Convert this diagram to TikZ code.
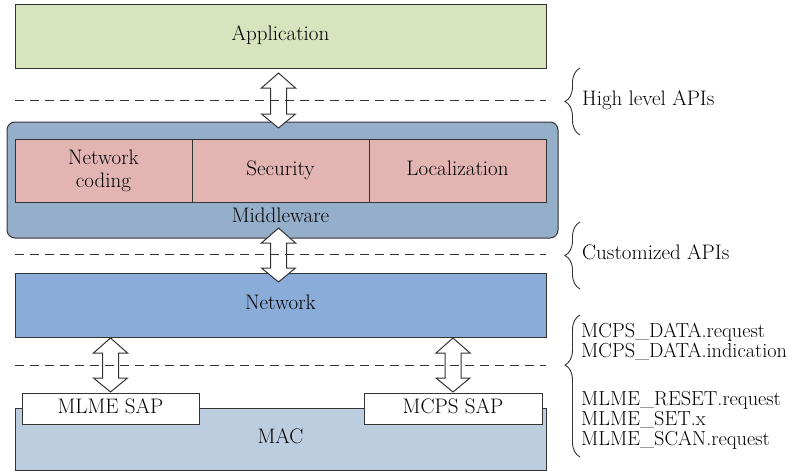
\documentclass[tikz,border=0pt]{standalone}
\usetikzlibrary{decorations.pathreplacing,calc}
\definecolor{appgreen}{HTML}{D7E4BD}
\definecolor{mwblue}{HTML}{95AFCB}
\definecolor{modpink}{HTML}{E2B5B3}
\definecolor{netblue}{HTML}{8AACD9}
\definecolor{macblue}{HTML}{BCCDE0}
\definecolor{edge}{HTML}{333333}
\newcommand\dblarr[2]{%
  \draw[dblarrow] (#1) -- ++(17,15) -- ++(-9,0) -- ($(#2)+(8,-14)$) -- ++(9,0) -- (#2)
    -- ++(-17,-14) -- ++(9,0) -- ($(#1)+(-8,15)$) -- ++(-9,0) -- cycle;}
\begin{document}
\begin{tikzpicture}[x=1pt,y=-1pt,
  font=\rmfamily\fontsize{21}{21}\selectfont,
  every node/.style={text height=14.5pt, text depth=4.5pt},
  layer/.style={draw=edge, line width=1pt, anchor=north west, inner sep=0pt, outer sep=0pt},
  dblarrow/.style={draw=edge, line width=1pt, fill=white, line join=miter},
  sep/.style={draw=edge, line width=1pt, dash pattern=on 9pt off 6pt},
  api/.style={decorate, decoration={brace, amplitude=15pt}, draw=edge, line width=0.9pt},
  lbl/.style={anchor=west, inner sep=0pt},
  call/.style={anchor=base west, inner sep=0pt, font=\rmfamily\fontsize{20.3}{20.3}\selectfont}]
\useasboundingbox (0,0) rectangle (788,471);
% layers
\node[layer, fill=appgreen, minimum width=531pt, minimum height=64pt] (app) at (15,4) {};
\node (appt) at (280.5,36) {Application};
\node[layer, fill=mwblue, rounded corners=8pt, minimum width=551pt, minimum height=116pt] (mw) at (7,122) {};
\node[layer, fill=modpink, minimum width=177pt, minimum height=63pt] (nc) at (15,139) {};
\node[align=center, text height=, text depth=, font=\rmfamily\fontsize{21}{23}\selectfont] (nct) at (103.5,170.5) {Network\\coding};
\node[layer, fill=modpink, minimum width=177pt, minimum height=63pt] (sec) at (192,139) {};
\node (sect) at (280.5,170.5) {Security};
\node[layer, fill=modpink, minimum width=177pt, minimum height=63pt] (loc) at (369,139) {};
\node (loct) at (457.5,170.5) {Localization};
\node (mwl) at (280.5,217) {Middleware};
\node[layer, fill=netblue, minimum width=531pt, minimum height=64pt] (net) at (15,273) {};
\node (nett) at (280.5,304) {Network};
\node[layer, fill=macblue, minimum width=531pt, minimum height=62pt] (mac) at (15,408) {};
\node (mact) at (280.5,438) {MAC};
\node[layer, fill=white, minimum width=177pt, minimum height=31pt] (mlme) at (22,393) {};
\node (mlmet) at (110.5,408.5) {MLME SAP};
\node[layer, fill=white, minimum width=178pt, minimum height=31pt] (mcps) at (364,393) {};
\node (mcpst) at (453,408.5) {MCPS SAP};
% double arrows
\coordinate (a1t) at (278.5,73);  \coordinate (a1b) at (278.5,128);
\coordinate (a2t) at (278.5,228); \coordinate (a2b) at (278.5,282);
\coordinate (a3t) at (110.5,338); \coordinate (a3b) at (110.5,392);
\coordinate (a4t) at (453,338);   \coordinate (a4b) at (453,392);
\dblarr{a1t}{a1b}
\dblarr{a2t}{a2b}
\dblarr{a3t}{a3b}
\dblarr{a4t}{a4b}
% dashed separators
\coordinate (d1l) at (15,100); \coordinate (d1r) at (546,100);
\coordinate (d2l) at (15,254); \coordinate (d2r) at (546,254);
\coordinate (d3l) at (15,365); \coordinate (d3r) at (546,365);
\draw[sep] (d1l) -- (d1r);
\draw[sep] (d2l) -- (d2r);
\draw[sep] (d3l) -- (d3r);
% braces
\coordinate (b1b) at (580,135); \coordinate (b1t) at (580,68);
\coordinate (b2b) at (580,289); \coordinate (b2t) at (580,222);
\coordinate (b3b) at (580,457); \coordinate (b3t) at (580,315);
\draw[api] (b1b) -- (b1t);
\draw[api] (b2b) -- (b2t);
\draw[api, decoration={aspect=0.648}] (b3b) -- (b3t);
\node[lbl] (hl) at (582,100) {High level APIs};
\node[lbl] (cu) at (582,254) {Customized APIs};
\node[call] (c1) at (581,337) {MCPS\_DATA.request};
\node[call] (c2) at (581,357) {MCPS\_DATA.indication};
\node[call] (c3) at (581,405) {MLME\_RESET.request};
\node[call] (c4) at (581,425) {MLME\_SET.x};
\node[call] (c5) at (581,445) {MLME\_SCAN.request};
\end{tikzpicture}
\end{document}
